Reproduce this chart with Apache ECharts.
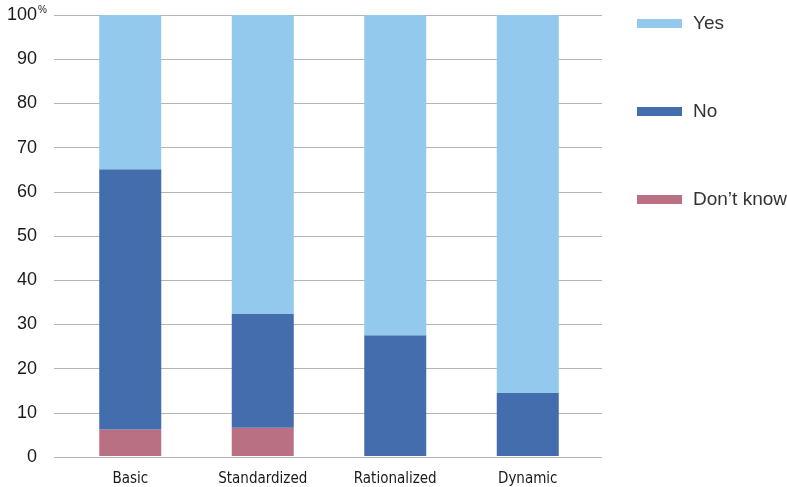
<!DOCTYPE html>
<html>
<head>
<meta charset="utf-8">
<script src="https://cdn.jsdelivr.net/npm/echarts@6/dist/echarts.min.js"></script>
<style>html,body{margin:0;padding:0;background:#fff}#c{width:787px;height:487px}</style>
</head>
<body>
<div id="c"></div>
<script>
var categories = ['Basic', 'Standardized', 'Rationalized', 'Dynamic'];
var dontKnow = [6, 6.4, 0, 0];
var no = [59, 25.8, 27.4, 14.3];
var yes = [35, 67.8, 72.6, 85.7];
var yTicks = [0, 10, 20, 30, 40, 50, 60, 70, 80, 90, 100];

var chart = echarts.init(document.getElementById('c'));
var labelFont = 'Liberation Sans, Arial, sans-serif';
var catFont = '"Liberation Sans Narrow", "DejaVu Sans Condensed", "Roboto Condensed", sans-serif';
chart.setOption({
  animation: false,
  grid: [
    {left: 54, right: 185, top: 15, bottom: 30},
    {left: 64, right: 193, top: 15, bottom: 30}
  ],
  legend: {
    orient: 'vertical', left: 637, top: 14, padding: 0,
    itemWidth: 45, itemHeight: 9, itemGap: 69,
    icon: 'rect',
    data: ['Yes', 'No', 'Don’t know'],
    textStyle: {fontFamily: labelFont, fontSize: 19, color: '#333', padding: [0, 0, 0, 6]}
  },
  xAxis: [
    {type: 'value', gridIndex: 0, show: false, min: 0, max: 1},
    {type: 'category', gridIndex: 1, data: categories,
     axisLine: {show: false}, axisTick: {show: false},
     axisLabel: {margin: 16, fontFamily: catFont, fontSize: 15, color: '#1a1a1a'}}
  ],
  yAxis: [
    {type: 'value', gridIndex: 0, min: 0, max: 100, interval: 10,
     axisLine: {show: false}, axisTick: {show: false},
     splitLine: {lineStyle: {color: '#b4b4b4', width: 1}},
     axisLabel: {
       margin: 7,
       formatter: function (v) {
         return yTicks.indexOf(v) === yTicks.length - 1 ? '{a|' + v + '}{b|%}' : '{a|' + v + '}{p|}';
       },
       rich: {
         a: {fontFamily: labelFont, fontSize: 18, color: '#1a1a1a'},
         b: {fontFamily: labelFont, fontSize: 10, color: '#1a1a1a', width: 10, padding: [0, 0, 10, 0]},
         p: {width: 10}
       }
     }},
    {type: 'value', gridIndex: 1, min: 0, max: 100, show: false}
  ],
  series: [
    {name: 'Don’t know', type: 'bar', stack: 's', xAxisIndex: 1, yAxisIndex: 1, barWidth: 62, data: dontKnow, itemStyle: {color: '#b87082'}},
    {name: 'No', type: 'bar', stack: 's', xAxisIndex: 1, yAxisIndex: 1, barWidth: 62, data: no, itemStyle: {color: '#436dad'}},
    {name: 'Yes', type: 'bar', stack: 's', xAxisIndex: 1, yAxisIndex: 1, barWidth: 62, data: yes, itemStyle: {color: '#92c9ec'}}
  ]
});
</script>
</body>
</html>
